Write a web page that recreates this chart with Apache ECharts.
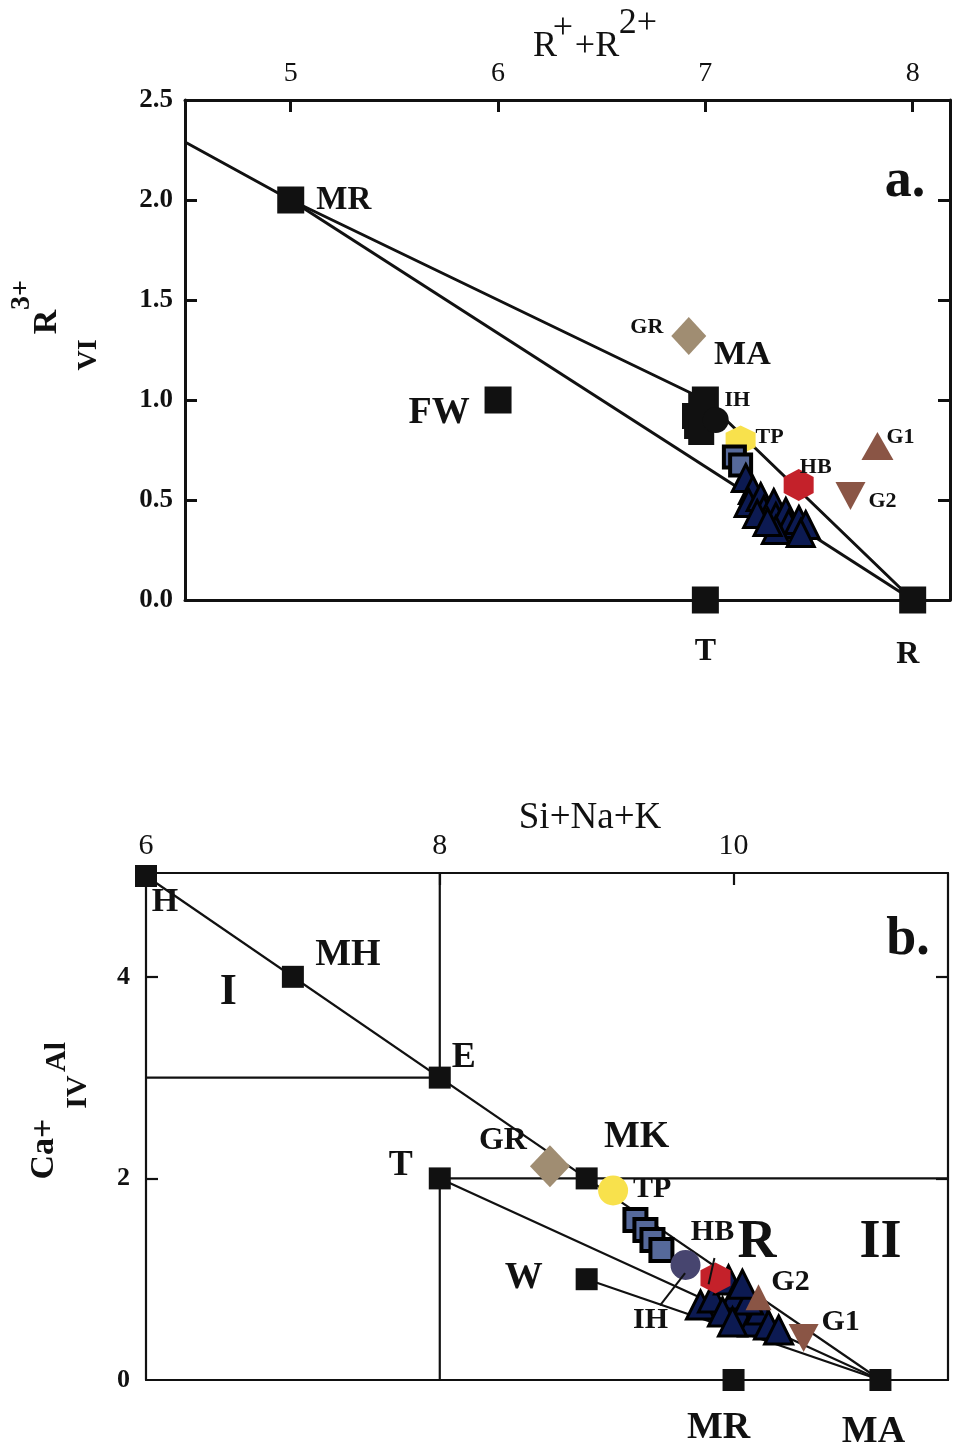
<!DOCTYPE html>
<html>
<head>
<meta charset="utf-8">
<script src="https://cdn.jsdelivr.net/npm/echarts@6/dist/echarts.min.js"></script>
<style>
  html, body { margin: 0; padding: 0; background: #fff; }
  #chart { width: 962px; height: 1452px; }
</style>
</head>
<body>
<div id="chart"></div>
<script>
const FONT = "'Liberation Serif', 'Times New Roman', serif";
const INK = '#111111';

// ---------- panel a: (R+ + R2+) against VI-coordinated R3+ ----------
const aXTickValues = [5, 6, 7, 8];
const aYTickValues = [0, 0.5, 1.0, 1.5, 2.0, 2.5];
const aEndNames = ['MR', 'FW', 'T', 'R', 'MA'];
const aEndX = [5, 6, 7, 8, 7];
const aEndY = [2, 1, 0, 0, 1];
const aTieLines = [
  [[4.49, 2.29], [5, 2], [7, 1], [8, 0]],
  [[5, 2], [8, 0]]
];
const aGR = [[6.92, 1.32]];
const aIH = [[6.98, 0.97], [6.95, 0.92], [6.96, 0.87], [6.98, 0.84]];
const aIHround = [[7.05, 0.90]];
const aTP = [[7.17, 0.80]];
const aBlueSquares = [[7.14, 0.715], [7.17, 0.675]];
const aNavyTriangles = [
  [7.195, 0.61], [7.229, 0.55], [7.209, 0.485], [7.267, 0.515], [7.282, 0.45],
  [7.330, 0.485], [7.340, 0.415], [7.388, 0.44], [7.402, 0.38], [7.451, 0.40],
  [7.484, 0.375], [7.34, 0.35], [7.46, 0.335], [7.25, 0.43], [7.30, 0.39]
];
const aHB = [[7.45, 0.575]];
const aG1 = [[7.83, 0.77]];
const aG2 = [[7.70, 0.52]];

// ---------- panel b: Si+Na+K against Ca + IV Al ----------
const bXTickValues = [6, 8, 10];
const bYTickValues = [0, 2, 4];
const bEndNames = ['H', 'MH', 'E', 'T', 'MK', 'W', 'MR', 'MA'];
const bEndX = [6, 7, 8, 8, 9, 9, 10, 11];
const bEndY = [5, 4, 3, 2, 2, 1, 0, 0];
const bTieLines = [
  [[6, 5], [9, 2]],
  [[8, 2], [11, 0]],
  [[9, 1], [11, 0]],
  [[9, 2], [11, 0]]
];
const bFieldLines = [
  [[8, 5.03], [8, 3]],
  [[6, 3], [8, 3]],
  [[8, 2], [11.46, 2]],
  [[8, 2], [8, 0]]
];
const bFieldNames = ['I', 'R', 'II'];
const bFieldX = [6.56, 10.16, 11.0];
const bFieldY = [3.84, 1.36, 1.36];
const bGR = [[8.75, 2.12]];
const bTP = [[9.18, 1.88]];
const bBlueSquares = [[9.332, 1.588], [9.40, 1.489], [9.448, 1.39], [9.509, 1.29]];
const bIH = [[9.673, 1.141]];
const bNavyTriangles = [
  [9.775, 0.744], [9.857, 0.814], [9.966, 0.993], [10.014, 0.844], [9.925, 0.675],
  [10.048, 0.635], [10.130, 0.576], [10.184, 0.695], [10.238, 0.546], [10.307, 0.496],
  [10.102, 0.794], [9.993, 0.576], [10.06, 0.95]
];
const bHB = [[9.877, 1.012]];
const bG2 = [[10.17, 0.82]];
const bG1 = [[10.477, 0.417]];
const bLeaders = [
  [[9.50, 0.74], [9.67, 1.06]],
  [[9.87, 1.21], [9.83, 0.95]]
];

// ---------- label placement (pixel offsets from symbol centre, font size) ----------
const aEndLabelStyle = {
  MR: [53, 0, 33], FW: [-59, 13, 38], T: [0, 52, 32], R: [-5, 55, 32], MA: [37, -45, 34]
};
const bEndLabelStyle = {
  H: [19, 26, 34], MH: [55, -22, 38], E: [24, -20, 36], T: [-39, -13, 36],
  MK: [50, -41, 38], W: [-63, -1, 38], MR: [-15, 48, 38], MA: [-7, 52, 38]
};
const bFieldLabelSize = { I: 44, R: 54, II: 54 };

const HEX = 'path://M0,-50 L43.3,-25 L43.3,25 L0,50 L-43.3,25 L-43.3,-25 Z';

function labelStyle(text, offset, size) {
  return {
    show: true, position: 'inside', offset: offset, formatter: text,
    fontFamily: FONT, fontWeight: 'bold', fontSize: size, color: INK, opacity: 1
  };
}

function panelAxes(p) { return { xAxisIndex: p * 2, yAxisIndex: p * 2 }; }

function lineSeries(panel, segs, width) {
  return segs.map(seg => Object.assign({
    type: 'line', data: seg, symbol: 'none', silent: true,
    lineStyle: { color: INK, width: width, opacity: 1 }, z: 2
  }, panelAxes(panel)));
}

function endMemberSeries(panel, names, xs, ys, styles, size) {
  return Object.assign({
    type: 'scatter', symbol: 'square', symbolSize: size,
    itemStyle: { color: INK, opacity: 1 }, z: 3,
    data: names.map((n, i) => ({
      value: [xs[i], ys[i]],
      label: labelStyle(n, styles[n].slice(0, 2), styles[n][2])
    }))
  }, panelAxes(panel));
}

function groupSeries(panel, g) {
  return Object.assign({
    type: 'scatter', symbol: g.symbol, symbolSize: g.size,
    symbolRotate: g.rotate || 0,
    itemStyle: { color: g.color, borderColor: g.border || g.color,
                 borderWidth: g.borderWidth || 0, opacity: 1 },
    z: 4,
    data: g.data.map((v, i) => (i === 0 && g.text)
      ? { value: v, label: labelStyle(g.text, g.offset, g.fontSize) }
      : { value: v })
  }, panelAxes(panel));
}

const TAN = '#a08d72', YELLOW = '#f8e14c', SLATE = '#56699a', NAVY = '#0c1a52',
      RED = '#c4212a', BROWN = '#8a5545', PURPLE = '#47456f';

const aGroups = [
  { data: aGR, symbol: 'diamond', size: [35, 38], color: TAN, text: 'GR', offset: [-42, -9], fontSize: 22 },
  { data: aIH, symbol: 'square', size: 26, color: INK, text: 'IH', offset: [36, -6], fontSize: 22 },
  { data: aIHround, symbol: 'circle', size: 26, color: INK },
  { data: aTP, symbol: HEX, size: [30, 29], color: YELLOW, text: 'TP', offset: [29, -3], fontSize: 22 },
  { data: aBlueSquares, symbol: 'square', size: 21, color: SLATE, border: '#000', borderWidth: 4 },
  { data: aNavyTriangles, symbol: 'triangle', size: 27, color: NAVY, border: '#000', borderWidth: 3 },
  { data: aHB, symbol: HEX, size: [30, 32], color: RED, text: 'HB', offset: [17, -18], fontSize: 22 },
  { data: aG1, symbol: 'triangle', size: [32, 28], color: BROWN, text: 'G1', offset: [23, -9], fontSize: 22 },
  { data: aG2, symbol: 'triangle', size: [30, 28], rotate: 180, color: BROWN, text: 'G2', offset: [32, 5], fontSize: 22 }
];

const bGroups = [
  { data: bGR, symbol: 'diamond', size: [40, 42], color: TAN, text: 'GR', offset: [-47, -26], fontSize: 32 },
  { data: bTP, symbol: 'circle', size: 30, color: YELLOW, text: 'TP', offset: [39, -1], fontSize: 30 },
  { data: bBlueSquares, symbol: 'square', size: 22, color: SLATE, border: '#000', borderWidth: 4 },
  { data: bIH, symbol: 'circle', size: 30, color: PURPLE, text: 'IH', offset: [-35, 55], fontSize: 30 },
  { data: bNavyTriangles, symbol: 'triangle', size: 28, color: NAVY, border: '#000', borderWidth: 3 },
  { data: bHB, symbol: HEX, size: [30, 31], color: RED, text: 'HB', offset: [-3, -46], fontSize: 30 },
  { data: bG2, symbol: 'triangle', size: [26, 26], color: BROWN, text: 'G2', offset: [32, -15], fontSize: 30 },
  { data: bG1, symbol: 'triangle', size: [30, 28], rotate: 180, color: BROWN, text: 'G1', offset: [37, -16], fontSize: 30 }
];

function frameAxis(grid, pos, min, max, width, tickVals, labelVals, labelOpt) {
  return {
    type: 'value', gridIndex: grid, position: pos, min: min, max: max,
    axisLine: { show: true, onZero: false, lineStyle: { color: INK, width: width } },
    axisTick: tickVals ? { show: true, inside: true, length: 12, customValues: tickVals,
                           lineStyle: { color: INK, width: width } } : { show: false },
    axisLabel: labelVals ? Object.assign({ show: true, customValues: labelVals,
                           fontFamily: FONT, color: INK }, labelOpt) : { show: false },
    splitLine: { show: false }
  };
}

const series = [].concat(
  lineSeries(0, aTieLines, 3),
  [endMemberSeries(0, aEndNames, aEndX, aEndY, aEndLabelStyle, 27)],
  aGroups.map(g => groupSeries(0, g)),
  lineSeries(1, bFieldLines, 2.2),
  lineSeries(1, bTieLines, 2.2),
  [endMemberSeries(1, bEndNames, bEndX, bEndY, bEndLabelStyle, 22)],
  bGroups.map(g => groupSeries(1, g)),
  lineSeries(1, bLeaders, 2).map(s => Object.assign(s, { z: 5 })),
  [Object.assign({
    type: 'scatter', symbolSize: 0, silent: true, z: 6,
    data: bFieldNames.map((n, i) => ({
      value: [bFieldX[i], bFieldY[i]],
      label: labelStyle(n, [0, 0], bFieldLabelSize[n])
    }))
  }, panelAxes(1))]
);

function txt(text, x, y, size, bold, rot) {
  return {
    type: 'text', x: x, y: y, rotation: rot || 0, silent: true,
    style: {
      text: text, fill: INK, align: 'center', verticalAlign: 'middle',
      font: (bold ? 'bold ' : '') + size + 'px ' + FONT
    }
  };
}
const UP = Math.PI / 2;

const option = {
  animation: false,
  backgroundColor: '#ffffff',
  grid: [
    { left: 185, top: 100, width: 765, height: 500 },
    { left: 146, top: 873, width: 802, height: 507 }
  ],
  xAxis: [
    frameAxis(0, 'top', 4.49, 8.18, 3, aXTickValues, aXTickValues, { fontSize: 28, margin: 12 }),
    frameAxis(0, 'bottom', 4.49, 8.18, 3, null, null),
    frameAxis(1, 'top', 6, 11.46, 2.2, [8, 10], bXTickValues, { fontSize: 30, margin: 12 }),
    frameAxis(1, 'bottom', 6, 11.46, 2.2, null, null)
  ],
  yAxis: [
    frameAxis(0, 'left', 0, 2.5, 3, [0.5, 1, 1.5, 2], aYTickValues,
      { fontSize: 27, fontWeight: 'bold', margin: 12, formatter: v => Number(v).toFixed(1) }),
    frameAxis(0, 'right', 0, 2.5, 3, [0.5, 1, 1.5, 2], null),
    frameAxis(1, 'left', 0, 5.03, 2.2, [2, 4], bYTickValues, { fontSize: 26, fontWeight: 'bold', margin: 16 }),
    frameAxis(1, 'right', 0, 5.03, 2.2, [2, 4], null)
  ],
  graphic: [
    // panel a axis titles
    txt('R', 545, 47, 36, false),
    txt('+', 563, 29, 36, false),
    txt('+R', 597, 47, 36, false),
    txt('2+', 638, 24, 36, false),
    txt('VI', 89, 355, 28, true, UP),
    txt('R', 47, 322, 34, true, UP),
    txt('3+', 22, 295, 28, true, UP),
    txt('a.', 905, 182, 54, true),
    // panel b axis titles
    txt('Si+Na+K', 590, 818, 37, false),
    txt('Ca+', 44, 1149, 34, true, UP),
    txt('IV', 78, 1092, 30, true, UP),
    txt('Al', 57, 1057, 30, true, UP),
    txt('b.', 908, 940, 54, true)
  ],
  series: series
};

const chart = echarts.init(document.getElementById('chart'), null, { renderer: 'canvas' });
chart.setOption(option);
</script>
</body>
</html>
